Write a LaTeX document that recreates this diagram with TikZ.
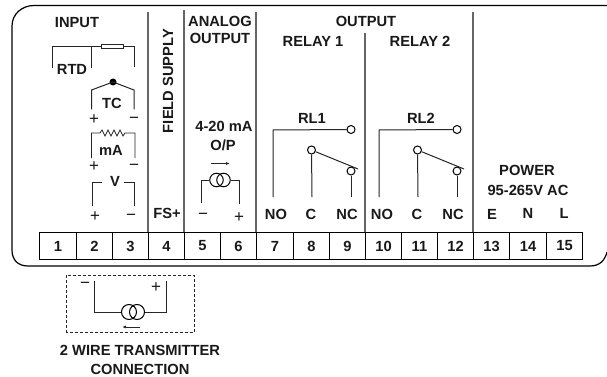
\documentclass[tikz,border=0pt]{standalone}
\usepackage{fontspec}
\usetikzlibrary{arrows.meta}
\setmainfont{Liberation Sans}
\begin{document}
\begin{tikzpicture}[x=1pt,y=-1pt,
  wire/.style={draw=black!85,line width=1pt},
  divider/.style={draw=black!60,line width=1.2pt},
  lbl/.style={inner sep=0pt,font=\fontsize{14.7}{15}\selectfont\bfseries,text=black!90},
  sign/.style={inner sep=0pt,yshift=-2pt,font=\fontsize{17}{17}\selectfont,text=black!90},
  term/.style={draw=black,line width=1pt,minimum height=27pt,inner sep=0pt,font=\fontsize{14.7}{15}\selectfont\bfseries,text=black!90},
  contact/.style={circle,draw=black,fill=white,line width=1pt,minimum size=8pt,inner sep=0pt},
  ring/.style={circle,draw=black,line width=1pt,inner sep=0pt},
  arr/.style={wire,-{Latex[length=4pt,width=3pt]}}
]
\useasboundingbox (0,0) rectangle (607,377);
\fill[white] (0,0) rectangle (607,377);
\draw[line width=1.2pt,black] (607,5.5) -- (34,5.5) .. controls (22,5.5) and (12,14) .. (12,26) -- (12,250) .. controls (12,260) and (18,266) .. (28,266) -- (590,266) .. controls (600,266) and (605,260) .. (607,252);
% dividers
\foreach \x/\ty in {148/12,184/10,256/12,365/33,473/12} \draw[divider] (\x,\ty) -- (\x,232);
% terminals
\foreach \n/\xa/\xb in {1/39/76,2/76/112,3/112/148,4/148/184,5/184/220,6/220/256,7/256/293,8/293/329,9/329/365,10/365/401,11/401/437,12/437/473,13/473/509,14/509/546,15/546/582}{
  \pgfmathsetmacro\cellw{\xb-\xa}
  \node[term,minimum width=\cellw pt,anchor=north west] (t\n) at (\xa,232) {\n};
}
% headings
\node[lbl] (hin) at (77,23) {INPUT};
\node[lbl] (han) at (220,21) {ANALOG};
\node[lbl] (hao) at (220,38) {OUTPUT};
\node[lbl] (hout) at (366,21) {OUTPUT};
\node[lbl] (hr1) at (313,41) {RELAY 1};
\node[lbl] (hr2) at (420,41) {RELAY 2};
\node[lbl,rotate=90] (hfs) at (168,81) {FIELD SUPPLY};
\node[lbl] (fsp) at (167,213) {FS+};
% RTD
\node[lbl] (rtd) at (72,69) {RTD};
\node[draw=black!85,line width=1pt,minimum width=22pt,minimum height=4.5pt,inner sep=0pt] (res) at (112,46.5) {};
\coordinate (ra) at (52,68); \coordinate (rb) at (52,46.5);
\coordinate (rc) at (91.5,46.5); \coordinate (rd) at (91.5,68);
\coordinate (re) at (134,46.5); \coordinate (rf) at (134,67);
\draw[wire] (ra) -- (rb) -- (res.west);
\draw[wire] (rc) -- (rd);
\draw[wire] (res.east) -- (re) -- (rf);
% TC
\node[circle,fill=black,minimum size=7pt,inner sep=0pt] (tcj) at (113,82) {};
\coordinate (tl) at (91.5,90); \coordinate (tlb) at (91.5,109.5);
\coordinate (tr) at (134,90); \coordinate (trb) at (134,109.5);
\draw[wire] (tlb) -- (tl) -- (tcj.center) -- (tr) -- (trb);
\node[lbl] (tc) at (112,103) {TC};
\node[sign] (tcp) at (94,118) {+};
\node[sign] (tcm) at (134,118) {−};
% mA
\coordinate (mlb) at (91.5,158); \coordinate (ml) at (91.5,133);
\coordinate (mr) at (135,133); \coordinate (mrb) at (135,158);
\draw[wire,line width=0.8pt] (mlb) -- (ml) -- (100,133) -- (102,130) -- (105,136) -- (108,130) -- (111,136) -- (114,130) -- (117,136) -- (120,130) -- (123,136) -- (125,133) -- (mr) -- (mrb);
\node[lbl] (ma) at (111,150) {mA};
\node[sign] (map) at (94,165) {+};
\node[sign] (mam) at (134,165) {−};
% V
\node[lbl] (v) at (115,181) {V};
\coordinate (vl) at (92,182); \coordinate (vlb) at (92,206);
\coordinate (vr) at (134,182); \coordinate (vrb) at (134,206);
\coordinate (vla) at (102,182); \coordinate (vra) at (124,182);
\draw[wire] (vlb) -- (vl) -- (vla);
\draw[wire] (vra) -- (vr) -- (vrb);
\node[sign] (vp) at (95,215) {+};
\node[sign] (vm) at (131,215) {−};
% analog output
\node[lbl] (a1) at (224,126) {4-20 mA};
\node[lbl] (a2) at (223,145) {O/P};
\coordinate (aa) at (211,163.5); \coordinate (ab) at (230,163.5);
\draw[arr] (aa) -- (ab);
\node[ring,minimum size=13.5pt] (c1) at (216.5,180) {};
\node[ring,minimum size=13.5pt] (c2) at (223.5,180) {};
\coordinate (al) at (201.5,180); \coordinate (alb) at (201.5,203);
\coordinate (ar) at (239.5,180); \coordinate (arb) at (239.5,204);
\draw[wire] (c1.west) -- (al) -- (alb);
\draw[wire] (c2.east) -- (ar) -- (arb);
\node[sign] (am) at (203,214) {−};
\node[sign] (ap) at (239,216) {+};
% relays
\foreach \nm/\xno/\xc/\xnc/\tno/\tcc/\tnc in {1/273/312/351/276/311/347,2/379/418/457/382/417/453}{
  \node[contact] (no\nm) at (\xnc,129.5) {};
  \node[contact] (c\nm x) at (\xc-0.5,150) {};
  \node[contact] (nc\nm) at (\xnc,171) {};
  \coordinate (nob\nm) at (\xno,197);
  \coordinate (not\nm) at (\xno,130);
  \coordinate (cb\nm) at (\xc,197);
  \coordinate (ncb\nm) at (\xnc,197);
  \coordinate (sw\nm) at (\xnc+7,169);
  \draw[wire] (nob\nm) -- (not\nm) -- (no\nm.west);
  \draw[wire] (c\nm x) -- (cb\nm);
  \draw[wire] (nc\nm) -- (ncb\nm);
  \draw[wire] (c\nm x) -- (sw\nm);
  \node[lbl] (lno\nm) at (\tno,214) {NO};
  \node[lbl] (lc\nm) at (\tcc,214) {C};
  \node[lbl] (lnc\nm) at (\tnc,214) {NC};
}
\node[lbl] (rl1) at (312,118) {RL1};
\node[lbl] (rl2) at (421,118) {RL2};
% power
\node[lbl] (p1) at (527,170) {POWER};
\node[lbl] (p2) at (528,190) {95-265V AC};
\node[lbl] (pe) at (492,214) {E};
\node[lbl] (pn) at (528,213) {N};
\node[lbl] (pl) at (564,213) {L};
% two wire
\draw[draw=black!85,densely dashed,line width=0.8pt] (66.5,275) rectangle (194,332);
\node[ring,minimum size=15pt] (d1) at (129,312) {};
\node[ring,minimum size=15pt] (d2) at (137,312) {};
\coordinate (dl) at (94,312); \coordinate (dlt) at (94,281);
\coordinate (dr) at (166,312); \coordinate (drt) at (166,281);
\draw[wire] (d1.west) -- (dl) -- (dlt);
\draw[wire] (d2.east) -- (dr) -- (drt);
\node[sign] (dm) at (85,283) {−};
\node[sign] (dp) at (156,286) {+};
\coordinate (ea) at (140,327); \coordinate (eb) at (122,327);
\draw[arr] (ea) -- (eb);
\node[lbl] (w1) at (140,350) {2 WIRE TRANSMITTER};
\node[lbl] (w2) at (140,369) {CONNECTION};
\end{tikzpicture}
\end{document}
